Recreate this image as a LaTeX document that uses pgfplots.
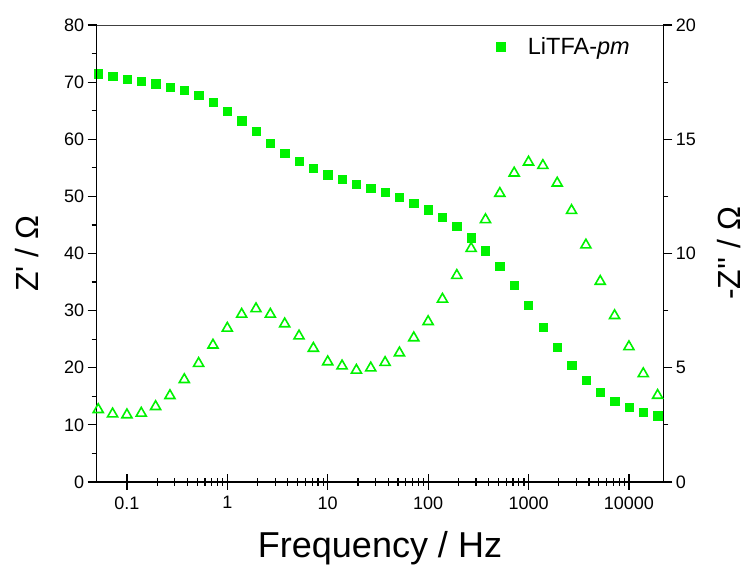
\documentclass[border=0pt]{standalone}
\usepackage{pgfplots}
\pgfplotsset{compat=1.18}
\usepackage{fontspec}
\setmainfont{Liberation Sans}
\definecolor{lime}{RGB}{0,242,0}
\pgfplotsset{/pgf/number format/assume math mode=true}
\begin{document}
\begin{tikzpicture}
% x axis, squares, legend
\begin{axis}[name=a,
  scale only axis, width=566.6pt, height=457pt,
  xmode=log, xmin=0.05, xmax=22000,
  ymin=0, ymax=80,
  axis x line=bottom, axis y line=none,
  axis line style={-, line width=1.4pt, black},
  every tick/.style={black, line width=1.2pt},
  tick label style={font=\fontsize{18}{21}\selectfont},
  xtick align=center,
  major tick length=16pt, minor tick length=8pt,
  xtick={0.1,1,10,100,1000,10000},
  xticklabels={0.1,1,10,100,1000,10000},
  xticklabel style={yshift=-3pt},
  xlabel={Frequency / Hz},
  xlabel style={font=\fontsize{36}{40}\selectfont, at={(axis description cs:0.5,-0.144)}, anchor=center},
  legend style={at={(axis description cs:0.95,0.982)}, anchor=north east, draw=none, fill=none,
    font=\fontsize{23.5}{27}\selectfont},
  legend image code/.code={\draw[#1] plot coordinates {(0pt,0pt)}; \path (-6pt,0pt) (25pt,0pt);},
]
\addplot[only marks, mark=square*, mark size=4.15pt, color=lime] coordinates {
(0.0518,71.45) (0.0720,71.03) (0.1,70.45) (0.1389,70.10) (0.1931,69.70) (0.2683,69.11)
(0.3728,68.53) (0.5179,67.71) (0.7197,66.49) (1,64.91) (1.3895,63.23) (1.9307,61.36)
(2.6827,59.32) (3.7276,57.57) (5.1795,56.17) (7.1969,54.95) (10,53.79) (13.895,52.97)
(19.307,52.15) (26.827,51.45) (37.276,50.75) (51.795,49.88) (71.969,48.83) (100,47.68)
(138.95,46.33) (193.07,44.76) (268.27,42.78) (372.76,40.51) (517.95,37.76) (719.69,34.39)
(1000,30.89) (1389.5,27.10) (1930.7,23.60) (2682.7,20.40) (3727.6,17.88) (5179.5,15.73)
(7196.9,14.16) (10000,13.06) (13895,12.19) (19307,11.59)
};
\addlegendentry{LiTFA-\textit{pm}}
\end{axis}
% left y axis
\begin{axis}[
  scale only axis, width=566.6pt, height=457pt,
  xmode=log, xmin=0.05, xmax=22000,
  ymin=0, ymax=80,
  axis y line=left, axis x line=none,
  axis line style={-, line width=1.4pt, black},
  every tick/.style={black, line width=1.2pt},
  tick label style={font=\fontsize{18}{21}\selectfont},
  ytick align=outside,
  major tick length=9pt, minor tick length=5pt,
  ytick={0,10,...,80}, minor y tick num=1,
  ylabel={Z\textquotesingle{} / Ω},
  ylabel style={font=\fontsize{32}{36}\selectfont, at={(axis description cs:-0.123,0.5)}, anchor=center},
]
\end{axis}
% right y axis, top line, triangles
\begin{axis}[
  scale only axis, width=566.6pt, height=457pt,
  xmode=log, xmin=0.05, xmax=22000,
  ymin=0, ymax=20,
  axis y line=right, axis x line=top,
  axis line style={-, line width=1.4pt, black},
  x axis line style={line width=0.8pt, black!75},
  every tick/.style={black, line width=1.2pt},
  tick label style={font=\fontsize{18}{21}\selectfont},
  xtick=\empty, minor xtick={},
  ytick align=outside,
  major tick length=9pt, minor tick length=5pt,
  ytick={0,5,...,20}, minor y tick num=1,
  ylabel={-Z\textquotesingle\textquotesingle{} / Ω},
  ylabel style={font=\fontsize{32}{36}\selectfont, at={(axis description cs:1.116,0.5)}, anchor=center},
]
\addplot[only marks, mark=triangle, mark size=5.8pt, color=lime, mark options={line width=1.6pt}] coordinates {
(0.0518,3.17) (0.0720,2.98) (0.1,2.94) (0.1389,3.01) (0.1931,3.30) (0.2683,3.78)
(0.3728,4.48) (0.5179,5.19) (0.7197,5.99) (1,6.73) (1.3895,7.34) (1.9307,7.58)
(2.6827,7.34) (3.7276,6.92) (5.1795,6.39) (7.1969,5.85) (10,5.26) (13.895,5.08)
(19.307,4.89) (26.827,4.99) (37.276,5.23) (51.795,5.65) (71.969,6.31) (100,7.02)
(138.95,8.00) (193.07,9.04) (268.27,10.22) (372.76,11.48) (517.95,12.63) (719.69,13.52)
(1000,14.00) (1389.5,13.85) (1930.7,13.08) (2682.7,11.88) (3727.6,10.37) (5179.5,8.78)
(7196.9,7.28) (10000,5.92) (13895,4.74) (19307,3.79)
};
\end{axis}
\path ([shift={(-96.7pt,-86pt)}]a.south west) rectangle ([shift={(84.7pt,25pt)}]a.north east);
\end{tikzpicture}
\end{document}
